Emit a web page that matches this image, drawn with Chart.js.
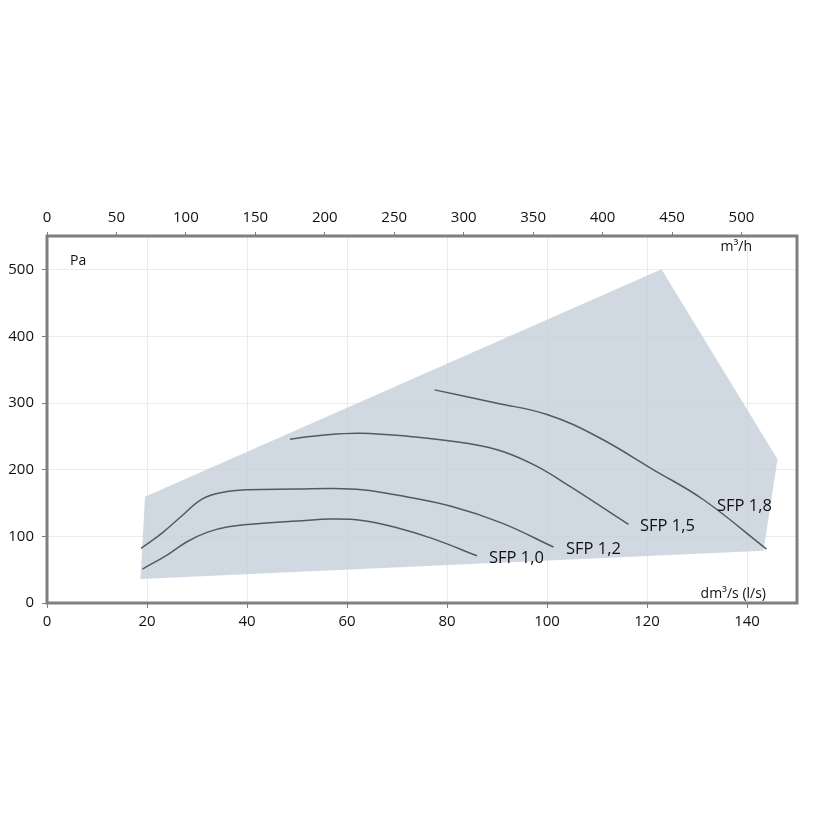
<!DOCTYPE html>
<html>
<head>
<meta charset="utf-8">
<script src="https://cdn.jsdelivr.net/npm/chart.js@4/dist/chart.umd.min.js"></script>
<style>
  html, body { margin: 0; padding: 0; background: #fff; }
  #wrap { width: 820px; height: 820px; }
</style>
</head>
<body>
<div id="wrap"><canvas id="c" width="820" height="820"></canvas></div>
<script>
// working range envelope (l/s, Pa)
const areaX = [18.7, 19.6, 122.9, 146.1, 143.3];
const areaY = [36, 159.5, 501, 216, 78.5];

// SFP curves
const sfp10X = [19.1, 24, 28, 32, 36, 42, 50, 57, 63, 70, 77, 86];
const sfp10Y = [51, 72, 92, 106, 114, 119, 123, 126, 124, 113, 97, 71];
const sfp12X = [18.8, 23, 27, 31, 35, 40, 50, 57, 63, 70, 81, 91, 101.3];
const sfp12Y = [82, 105, 131, 156, 166, 170, 171, 172, 170, 162, 145, 120, 84];
const sfp15X = [48.6, 55, 62.6, 72.6, 84.6, 91.3, 98, 104.6, 116.3];
const sfp15Y = [246, 252, 255, 250, 239, 227, 205, 175, 118];
const sfp18X = [77.5, 90, 100, 110, 121.3, 131.3, 143.9];
const sfp18Y = [320, 300, 283, 250, 200, 155, 81];

const sfpNames = ["SFP 1,0", "SFP 1,2", "SFP 1,5", "SFP 1,8"];
const labelX = [88.4, 103.8, 118.6, 134];
const labelY = [67.6, 81, 115.6, 145.6];

const xTicksLs = [0, 20, 40, 60, 80, 100, 120, 140];
const yTicksPa = [0, 100, 200, 300, 400, 500];
const topTicksM3h = [0, 50, 100, 150, 200, 250, 300, 350, 400, 450, 500];

const pts = (xs, ys) => xs.map((x, i) => ({x: x, y: ys[i]}));

const FONT = "'Open Sans', 'Noto Sans', sans-serif";
const frameColor = "#7f7f7f";
const lineColor = "#55595f";

const curve = (xs, ys) => ({
  type: 'line',
  data: pts(xs, ys),
  borderColor: lineColor,
  borderWidth: 1.5,
  pointRadius: 0,
  fill: false,
  tension: 0.4,
  xAxisID: 'x', yAxisID: 'y'
});

// envelope polygon drawn through the chart scales, under the curves
const envelope = {
  id: 'envelope',
  beforeDatasetsDraw(chart) {
    const ctx = chart.ctx, sx = chart.scales.x, sy = chart.scales.y;
    ctx.save();
    ctx.fillStyle = 'rgba(196,208,217,0.8)';
    ctx.beginPath();
    areaX.forEach((x, i) => {
      const px = sx.getPixelForValue(x), py = sy.getPixelForValue(areaY[i]);
      if (i === 0) ctx.moveTo(px, py); else ctx.lineTo(px, py);
    });
    ctx.closePath();
    ctx.fill();
    ctx.restore();
  }
};

const extras = {
  id: 'extras',
  afterDatasetsDraw(chart) {
    const ctx = chart.ctx, a = chart.chartArea;
    const sx = chart.scales.x, sy = chart.scales.y;
    ctx.save();
    ctx.fillStyle = "#111";
    ctx.font = "16.5px " + FONT;
    ctx.textBaseline = "middle";
    ctx.textAlign = "left";
    for (let i = 0; i < sfpNames.length; i++) {
      ctx.fillText(sfpNames[i], sx.getPixelForValue(labelX[i]), sy.getPixelForValue(labelY[i]));
    }
    ctx.font = "14px " + FONT;
    ctx.fillText("Pa", a.left + 23, a.top + 25);
    ctx.textAlign = "right";
    ctx.fillText("m³/h", a.right - 45, a.top + 11);
    ctx.fillText("dm³/s (l/s)", a.right - 31, a.bottom - 9);
    ctx.strokeStyle = frameColor;
    ctx.lineWidth = 3;
    ctx.strokeRect(a.left, a.top, a.right - a.left, a.bottom - a.top);
    ctx.restore();
  }
};

const keepTicks = (list) => (axis) => {
  axis.ticks = list.map(v => ({value: v}));
};

new Chart(document.getElementById('c'), {
  type: 'scatter',
  data: {
    datasets: [
      curve(sfp10X, sfp10Y),
      curve(sfp12X, sfp12Y),
      curve(sfp15X, sfp15Y),
      curve(sfp18X, sfp18Y)
    ]
  },
  options: {
    responsive: false,
    animation: false,
    devicePixelRatio: 1,
    layout: { padding: { left: 0, right: 23, top: 0, bottom: 0 } },
    plugins: { legend: { display: false }, tooltip: { enabled: false } },
    scales: {
      x: {
        type: 'linear', position: 'bottom', min: 0, max: 150,
        afterBuildTicks: keepTicks(xTicksLs),
        afterFit: (axis) => { axis.height = 217; },
        grid: { color: '#ebebeb', tickColor: frameColor, tickLength: 5, lineWidth: 1 },
        border: { display: false },
        ticks: { color: '#111', font: { family: FONT, size: 15 }, padding: 5, maxRotation: 0 }
      },
      x2: {
        type: 'linear', position: 'top', min: 0, max: 540,
        afterBuildTicks: keepTicks(topTicksM3h),
        afterFit: (axis) => { axis.height = 236; },
        grid: { drawOnChartArea: false, tickColor: frameColor, tickLength: 4 },
        border: { display: false },
        ticks: { color: '#111', font: { family: FONT, size: 15 }, padding: 5, maxRotation: 0 }
      },
      y: {
        type: 'linear', position: 'left', min: 0, max: 551,
        afterBuildTicks: keepTicks(yTicksPa),
        afterFit: (axis) => { axis.width = 47; },
        grid: { color: '#ebebeb', tickColor: frameColor, tickLength: 5 },
        border: { display: false },
        ticks: { color: '#111', font: { family: FONT, size: 15 }, padding: 8 }
      }
    }
  },
  plugins: [envelope, extras]
});
</script>
</body>
</html>
